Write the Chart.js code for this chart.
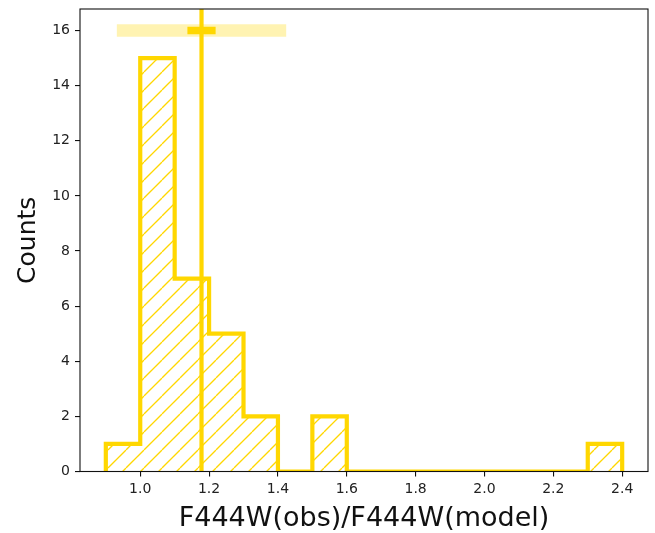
<!DOCTYPE html>
<html>
<head>
<meta charset="utf-8">
<script src="https://cdn.jsdelivr.net/npm/chart.js@4.4.1/dist/chart.umd.min.js"></script>
<style>
  html, body { margin: 0; padding: 0; background: #fff; }
  canvas { display: block; }
</style>
</head>
<body>
<canvas id="histChart" width="655" height="533"></canvas>
<script>
// histogram of flux ratios, 0.1 wide bins
const binEdges = [0.9, 1.0, 1.1, 1.2, 1.3, 1.4, 1.5, 1.6, 1.7, 1.8, 1.9, 2.0, 2.1, 2.2, 2.3, 2.4];
const counts = [1, 15, 7, 5, 2, 0, 2, 0, 0, 0, 0, 0, 0, 0, 1];

// median ratio with its spread and its uncertainty, marked at y = 16
const medianRatio = 1.178;
const spreadErr = 0.246;
const medianErr = 0.041;
const markerY = 16;

const xTicks = [1.0, 1.2, 1.4, 1.6, 1.8, 2.0, 2.2, 2.4];
const yTicks = [0, 2, 4, 6, 8, 10, 12, 14, 16];
const xRange = [0.825, 2.475];
const yRange = [0, 16.78];

const GOLD = '#FFD700';
const FONT = "'DejaVu Sans', sans-serif";

function hatchPattern(size, color, width) {
    const tile = document.createElement('canvas');
    tile.width = size;
    tile.height = size;
    const c = tile.getContext('2d');
    c.strokeStyle = color;
    c.lineWidth = width;
    for (let k = -1; k <= 1; k++) {
        c.beginPath();
        c.moveTo(k * size, size);
        c.lineTo(k * size + size, 0);
        c.stroke();
    }
    return document.getElementById('histChart').getContext('2d').createPattern(tile, 'repeat');
}

// step outline: rise at the first edge, drop at the last edge
function stepPoints() {
    const pts = [{x: binEdges[0], y: 0}];
    counts.forEach((c, i) => pts.push({x: binEdges[i], y: c}));
    pts.push({x: binEdges[binEdges.length - 1], y: 0});
    return pts;
}

const frame = {
    id: 'frame',
    afterDatasetsDraw(chart) {
        const {ctx, chartArea: a} = chart;
        ctx.save();
        ctx.strokeStyle = '#111';
        ctx.lineWidth = 1.1;
        ctx.strokeRect(a.left, a.top, a.right - a.left, a.bottom - a.top);
        ctx.restore();
    }
};

new Chart('histChart', {
    type: 'line',
    data: {
        datasets: [
            {
                data: [{x: medianRatio, y: yRange[0]}, {x: medianRatio, y: yRange[1]}],
                borderColor: GOLD,
                borderWidth: 4.2,
                borderCapStyle: 'butt',
                pointRadius: 0,
                clip: 0,
                order: 0
            },
            {
                data: [{x: medianRatio - medianErr, y: markerY}, {x: medianRatio + medianErr, y: markerY}],
                borderColor: GOLD,
                borderWidth: 7.5,
                borderCapStyle: 'butt',
                pointRadius: 0,
                order: 1
            },
            {
                data: [{x: medianRatio - spreadErr, y: markerY}, {x: medianRatio + spreadErr, y: markerY}],
                borderColor: 'rgba(255, 215, 0, 0.3)',
                borderWidth: 12.6,
                borderCapStyle: 'butt',
                pointRadius: 0,
                order: 2
            },
            {
                data: stepPoints(),
                stepped: 'before',
                borderColor: GOLD,
                borderWidth: 4.2,
                borderJoinStyle: 'miter',
                backgroundColor: hatchPattern(18, GOLD, 1.3),
                fill: 'origin',
                pointRadius: 0,
                clip: 0,
                order: 3
            }
        ]
    },
    options: {
        responsive: false,
        animation: false,
        devicePixelRatio: 1,
        layout: {padding: {top: 9, right: 7, left: 0, bottom: 0}},
        plugins: {legend: {display: false}, tooltip: {enabled: false}},
        scales: {
            x: {
                type: 'linear',
                min: xRange[0],
                max: xRange[1],
                afterFit: s => { s.height = 61.5; s.paddingLeft = 0; s.paddingRight = 0; },
                afterBuildTicks: s => { s.ticks = xTicks.map(v => ({value: v})); },
                grid: {drawOnChartArea: false, drawTicks: true, tickLength: 5, color: '#111', lineWidth: 1.1},
                border: {display: false},
                ticks: {
                    padding: 4,
                    color: '#222',
                    font: {family: FONT, size: 14},
                    maxRotation: 0,
                    callback: v => v.toFixed(1)
                },
                title: {
                    display: true,
                    text: 'F444W(obs)/F444W(model)',
                    color: '#111',
                    font: {family: FONT, size: 27, lineHeight: 1},
                    padding: {top: 0, bottom: 1}
                }
            },
            y: {
                type: 'linear',
                min: yRange[0],
                max: yRange[1],
                afterFit: s => { s.width = 80; s.paddingTop = 0; s.paddingBottom = 0; },
                afterBuildTicks: s => { s.ticks = yTicks.map(v => ({value: v})); },
                grid: {drawOnChartArea: false, drawTicks: true, tickLength: 5, color: '#111', lineWidth: 1.1},
                border: {display: false},
                ticks: {
                    padding: 5,
                    color: '#222',
                    font: {family: FONT, size: 14},
                    callback: v => String(v)
                },
                title: {
                    display: true,
                    text: 'Counts',
                    color: '#111',
                    font: {family: FONT, size: 25, lineHeight: 1.2},
                    padding: {top: 13, bottom: 0}
                }
            }
        }
    },
    plugins: [frame]
});
</script>
</body>
</html>
